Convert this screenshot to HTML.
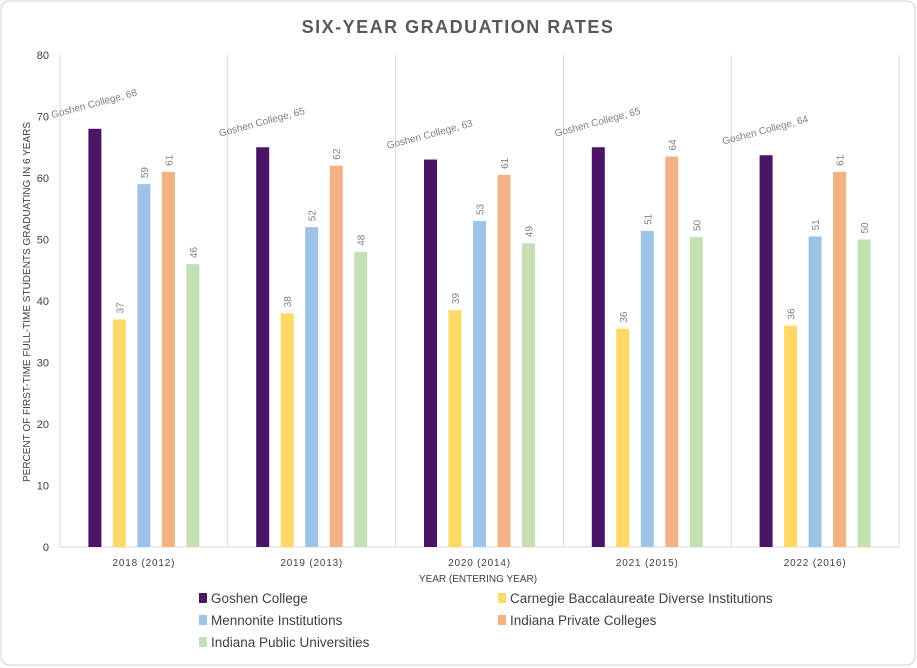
<!DOCTYPE html>
<html><head><meta charset="utf-8"><style>
body{margin:0;background:#fff;font-family:"Liberation Sans",sans-serif}
svg{display:block}
</style></head><body>
<svg id="chart" width="917" height="668">
<rect x="1" y="1" width="914" height="664" rx="8" fill="#fff" stroke="#d0d0d0"/>
<text x="458" y="33" text-anchor="middle" font-size="18" font-weight="bold" fill="#595959" letter-spacing="1.5">SIX-YEAR GRADUATION RATES</text>
<g id="grid"></g><g id="bars"></g><g id="labels"></g>
<text transform="translate(30,302) rotate(-90)" text-anchor="middle" font-size="10" fill="#404040">PERCENT OF FIRST-TIME FULL-TIME STUDENTS GRADUATING IN 6 YEARS</text>
<text x="478" y="582" text-anchor="middle" font-size="10" fill="#404040">YEAR (ENTERING YEAR)</text>
<g id="legend"></g>
</svg>
<script>
const categories=["2018 (2012)","2019 (2013)","2020 (2014)","2021 (2015)","2022 (2016)"];
const seriesNames=["Goshen College","Carnegie Baccalaureate Diverse Institutions","Mennonite Institutions","Indiana Private Colleges","Indiana Public Universities"];
const goshen=[68,65,63,65,63.7];
const carnegie=[37,38,38.5,35.5,36];
const mennonite=[59,52,53,51.4,50.5];
const indianaPrivate=[61,62,60.5,63.5,61];
const indianaPublic=[46,48,49.4,50.4,50];
const yTicks=[0,10,20,30,40,50,60,70,80];
const series=[goshen,carnegie,mennonite,indianaPrivate,indianaPublic];
const colors=["#4b1566","#ffd966","#9dc3e6","#f4b183","#c5e0b4"];
const NS="http://www.w3.org/2000/svg";
const X0=60,X1=899,Y0=547,Y1=55;
const y=v=>Y0-(v/80)*(Y0-Y1);
const gw=(X1-X0)/categories.length;
const gx=i=>X0+gw*i;
function mk(tag,attrs,parent,txt){const e=document.createElementNS(NS,tag);for(const k in attrs)e.setAttribute(k,attrs[k]);if(txt!==undefined)e.textContent=txt;parent.appendChild(e);return e;}
const grid=document.getElementById('grid'),bars=document.getElementById('bars'),labels=document.getElementById('labels'),legend=document.getElementById('legend');
yTicks.forEach(t=>{
  const e=mk('text',{x:49,y:y(t)+4,'text-anchor':'end','font-size':11,fill:'#404040'},grid,t);
  
  
});
for(let i=0;i<=categories.length;i++){
  const l=mk('line',{x1:gx(i),x2:gx(i),y1:Y1,y2:Y0,stroke:'#d9d9d9'},grid);
  
  
}
const ax=mk('line',{x1:X0,x2:X1,y1:Y0,y2:Y0,stroke:'#d9d9d9'},grid);


const bw=13,step=24.5;
categories.forEach((c,i)=>{
  const cx=gx(i)+gw/2;
  const t=mk('text',{x:cx,y:566,'text-anchor':'middle','font-size':10,fill:'#404040','letter-spacing':'0.8'},labels,c);
  
  
  series.forEach((s,j)=>{
    const bx=cx+(j-2)*step-bw/2,top=y(s[i]);
    const r=mk('rect',{x:bx,y:top,width:bw,height:Y0-top,fill:colors[j]},bars);
    
    
    if(j===0){
      const lx=bx+bw/2,ly=top-22;
      const lt=mk('text',{transform:`translate(${lx},${ly}) rotate(-15)`,'text-anchor':'middle','font-size':10,fill:'#7f7f7f'},labels,'Goshen College, '+Math.round(s[i]));
      
      
    } else {
      const lx=bx+bw/2+4,ly=top-6;
      const lt=mk('text',{transform:`translate(${lx},${ly}) rotate(-90)`,'text-anchor':'start','font-size':10,fill:'#7f7f7f'},labels,Math.round(s[i]));
      
      
    }
  });
});
const legPos=[[199,603],[498,603],[199,625],[498,625],[199,647]];
seriesNames.forEach((n,j)=>{
  const [lx,ly]=legPos[j];
  const g=mk('g',{},legend);
  
  
  mk('rect',{x:lx,y:ly-10,width:8,height:10,fill:colors[j]},g);
  mk('text',{x:lx+12,y:ly,'font-size':13.5,fill:'#404040'},g,n);
});
</script>
</body></html>
